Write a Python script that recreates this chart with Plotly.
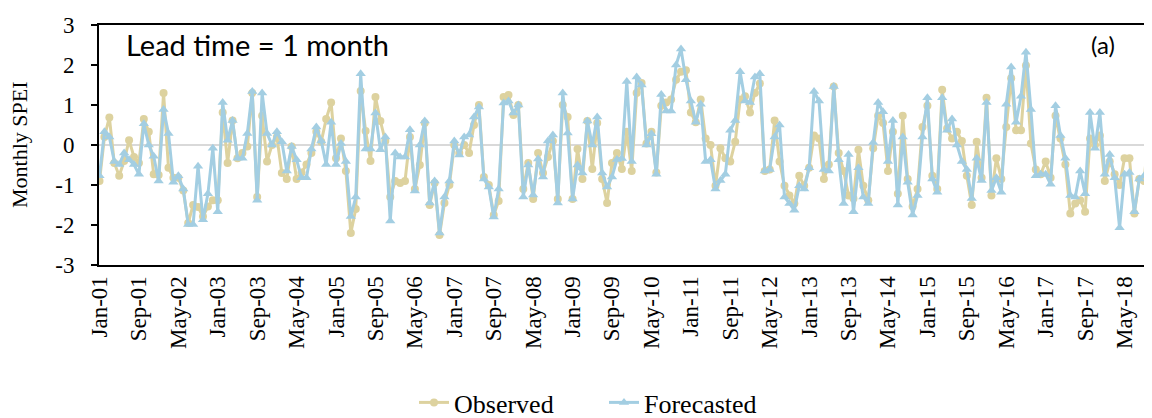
import plotly.graph_objects as go

month_names = ["Jan", "Feb", "Mar", "Apr", "May", "Jun", "Jul", "Aug", "Sep", "Oct", "Nov", "Dec"]
years = list(range(2001, 2019))
months = [f"{m}-{str(y)[2:]}" for y in years for m in month_names]

observed = [
    -0.9, 0.2, 0.69, -0.45, -0.77, -0.4, 0.12, -0.3, -0.45, 0.65, 0.33, -0.73,
    -0.75, 1.3, -0.57, -0.82, -0.82, -1.14, -1.95, -1.5, -1.55, -1.79, -1.54, -1.38,
    -1.38, 0.81, -0.45, 0.61, -0.33, -0.2, -0.04, 1.3, -1.3, 0.73, -0.41, 0.0,
    0.2, -0.7, -0.85, -0.04, -0.85, -0.69, -0.49, -0.2, 0.33, 0.08, 0.65, 1.06,
    -0.33, 0.16, -0.65, -2.2, -1.6, 1.35, 0.35, -0.4, 1.2, 0.6, 0.1, -1.3,
    -0.9, -0.95, -0.9, 0.2, -1.1, -0.5, 0.55, -1.5, -0.95, -2.25, -1.45, -1.0,
    0.0, -0.2, 0.0, -0.2, 0.5, 1.0, -0.8, -1.0, -1.75, -1.4, 1.2, 1.25,
    0.75, 1.0, -1.1, -0.45, -1.35, -0.2, -0.7, -0.3, 0.1, -1.35, 1.0, 0.7,
    -1.35, -0.1, -0.85, 0.6, -0.6, 0.55, -0.85, -1.45, -0.45, -0.2, -0.6, 0.33,
    -0.65, 1.3, 1.55, 0.04, 0.33, -0.69, 0.98, 1.06, 1.14, 1.63, 1.83, 1.87,
    0.81, 0.57, 1.14, 0.16, 0.0, -1.02, -0.08, -0.33, -0.41, 0.08, 1.14, 1.22,
    0.81, 1.3, 1.54, -0.65, -0.61, 0.61, -0.41, -1.02, -1.26, -1.46, -0.77, -1.02,
    -0.57, 0.24, 0.16, -0.85, -0.49, 1.46, -0.2, -0.65, -1.26, -1.34, -0.12, -1.02,
    -1.38, -0.08, 0.73, 0.55, -0.65, 0.33, -1.22, 0.73, -0.85, -1.54, -1.1, 0.45,
    0.98, -0.77, -1.1, 1.38, 0.41, 0.16, 0.33, 0.1, -0.77, -1.5, 0.08, -0.82,
    1.18, -1.26, -0.33, -0.85, 0.45, 1.67, 0.37, 0.37, 1.99, 0.04, -0.61, -0.73,
    -0.41, -0.82, 0.73, 0.16, -0.49, -1.71, -1.46, -1.38, -1.67, 0.16, 0.0, 0.24,
    -0.9, -0.41, -0.73, -1.0, -0.33, -0.33, -1.71, -0.85, -0.9, 0.57, 0.57, -0.45,
]

forecasted = [
    -0.77, 0.33, 0.2, -0.41, -0.49, -0.2, -0.37, -0.49, -0.73, 0.53, 0.0, -0.28,
    -0.9, 0.89, 0.29, -0.93, -0.77, -1.1, -1.99, -1.99, -0.53, -1.87, -1.22, -0.08,
    -1.67, 1.06, 0.12, 0.61, -0.33, -0.33, 0.29, 1.34, -1.38, 1.3, 0.29, 0.0,
    0.33, 0.08, -0.65, -0.04, -0.37, -0.82, -0.82, -0.1, 0.45, 0.1, -0.49, 0.57,
    -0.49, 0.04, -0.41, -1.79, -1.3, 1.78, -0.1, -0.1, 0.8, -0.12, 0.2, -1.9,
    -0.2, -0.3, -0.3, 0.38, -1.15, 0.0, 0.6, -1.45, -0.9, -2.2, -1.3, -0.9,
    0.1, -0.25, 0.2, 0.25, 0.7, 0.95, -0.85, -1.05, -1.8, -1.1, 1.05, 1.1,
    0.8, 1.0, -1.3, -0.5, -1.25, -0.35, -0.8, 0.1, 0.25, -1.45, 1.3, 0.3,
    -1.35, -0.5, -0.7, 0.6, 0.0, 0.7, -0.7, -1.05, -0.8, -0.36, -0.34, 1.59,
    -0.41, 1.7, 1.5, 0.0, 0.28, -0.73, 1.26, 0.85, 0.85, 2.0, 2.4, 1.63,
    1.1, 0.57, 1.02, -0.41, -0.37, -1.1, -0.89, -0.73, 0.37, 0.61, 1.83, 1.1,
    1.06, 1.7, 1.78, -0.65, -0.61, 0.2, 0.5, -1.3, -1.46, -1.63, -1.02, -1.1,
    -0.57, 1.34, 1.1, -0.61, -0.65, 1.46, -0.37, -1.46, -0.24, -1.67, -0.57, -1.3,
    -1.46, 0.06, 1.06, 0.83, -0.41, 0.61, -1.5, 0.2, -0.93, -1.75, -1.26, 0.2,
    1.18, -0.85, -1.18, 1.18, 0.37, 0.65, 0.0, -0.41, -0.61, -1.34, -0.33, -0.89,
    1.06, -1.14, -0.82, -1.18, 1.02, 1.95, 0.57, 1.22, 2.32, 0.89, -0.77, -0.73,
    -0.73, -0.98, 0.98, 0.24, -0.33, -1.26, -1.3, -0.65, -1.22, 0.81, -0.08, 0.81,
    -0.73, -0.24, -0.82, -2.07, -0.73, -0.69, -1.67, -0.85, -0.77, -0.69, 0.81, -0.5,
]

tick_labels = months[::8]
y_ticks = [-3, -2, -1, 0, 1, 2, 3]
y_tick_text = ["-3", "-2", "-1", "0", "1", "2", "3"]

OBS_COLOR = "#DDD29F"
FC_COLOR = "#A3CEE2"
SERIF = "Liberation Serif"
SANS = "Lato"

fig = go.Figure()
fig.add_trace(go.Scatter(
    x=months, y=observed, name="Observed", mode="lines+markers",
    line=dict(color=OBS_COLOR, width=3),
    marker=dict(symbol="circle", size=8, color=OBS_COLOR),
))
fig.add_trace(go.Scatter(
    x=months, y=forecasted, name="Forecasted", mode="lines+markers",
    line=dict(color=FC_COLOR, width=3),
    marker=dict(symbol="triangle-up", size=9, color=FC_COLOR),
))

fig.update_layout(
    width=1152, height=418,
    margin=dict(l=91, r=0, t=17, b=155),
    paper_bgcolor="white", plot_bgcolor="white",
    font=dict(family=SERIF, size=20, color="black"),
    showlegend=True,
    legend=dict(orientation="h", x=(406 - 91) / 1061, xanchor="left", y=-0.575, yanchor="middle",
                font=dict(family=SERIF, size=26, color="black"),
                entrywidth=145, entrywidthmode="pixels",
                bgcolor="rgba(0,0,0,0)"),
    xaxis=dict(
        type="category", range=[-0.1, 215.2],
        tickmode="array", tickvals=tick_labels, ticktext=tick_labels,
        tickangle=-90, ticks="", showgrid=False,
        showline=True, linecolor="black", linewidth=2, mirror=True,
        tickfont=dict(family=SERIF, size=23, color="black"),
        zeroline=False,
    ),
    yaxis=dict(
        range=[-3, 3], tickmode="array", tickvals=y_ticks, ticktext=y_tick_text,
        ticks="outside", ticklen=6, tickwidth=2, tickcolor="black",
        ticklabelstandoff=12,
        showline=True, linecolor="black", linewidth=2,
        showgrid=False, zeroline=True, zerolinecolor="#D9D9D9", zerolinewidth=2,
        tickfont=dict(family=SERIF, size=23, color="black"),
    ),
    annotations=[
        dict(text="Monthly SPEI", textangle=-90, xref="paper", yref="paper",
             x=0, y=0.5, xanchor="center", yanchor="middle", xshift=-80,
             showarrow=False, font=dict(family=SERIF, size=22, color="black")),
        dict(text="Lead time = 1 month", xref="paper", yref="paper",
             x=(116 - 91) / 1061, y=(263 - 37) / 246, xanchor="left", yanchor="middle",
             showarrow=False, font=dict(family=SANS, size=29, color="black")),
        dict(text="(a)", xref="paper", yref="paper",
             x=(1081 - 91) / 1061, y=(263 - 37) / 246, xanchor="left", yanchor="middle",
             showarrow=False, font=dict(family=SANS, size=24, color="black")),
    ],
)

fig.write_html("out.html")
